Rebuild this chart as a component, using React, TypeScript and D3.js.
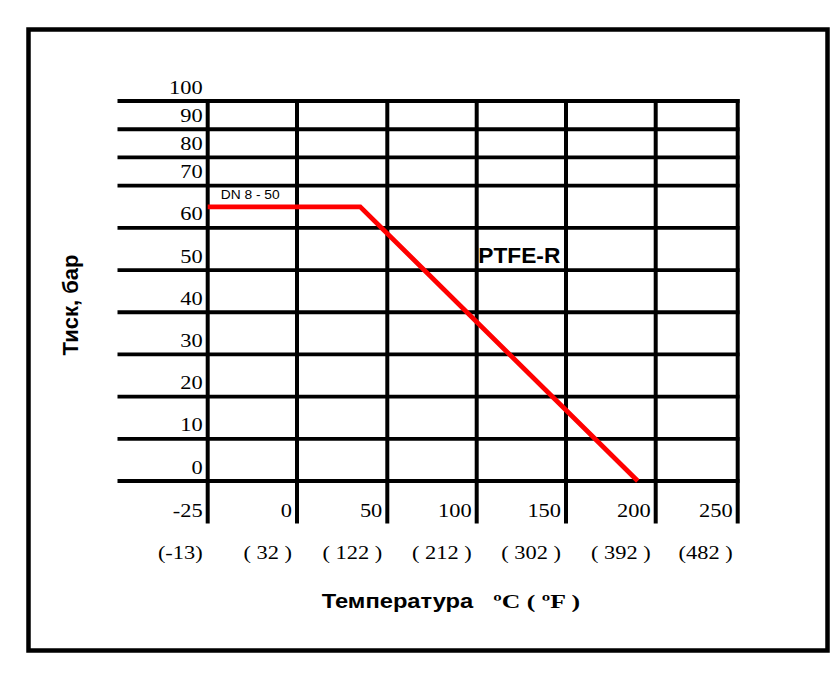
import React from "react";
import * as d3 from "d3";

const celsiusTicks = [-25, 0, 50, 100, 150, 200, 250];
const fahrenheitLabels = ["(-13)", "( 32 )", "( 122 )", "( 212 )", "( 302 )", "( 392 )", "(482 )"];
const pressureTicks = [0, 10, 20, 30, 40, 50, 60, 70, 80, 90, 100];
const seriesTemp = [-25, 35, 190];
const seriesPressure = [65, 65, 0];

const W = 840;
const H = 682;
const SERIF = "'Liberation Serif', 'Times New Roman', serif";
const SANS = "'Liberation Sans', Arial, sans-serif";

// Piecewise scales (the original grid is not uniform)
const x = d3
  .scaleLinear()
  .domain(celsiusTicks)
  .range([207.7, 297, 387.3, 476.7, 566, 655.7, 737.7]);
const y = d3.scaleLinear().domain([0, 70, 100]).range([481, 185.7, 101]);

const gridLeft = 117.5;
const gridRight = 739.5;
const vTop = 99;
const vBottom = 523.5;
const stretch = 1.18;

export default function App() {
  const line = d3
    .line<number>()
    .x((d) => x(d))
    .y((_, i) => y(seriesPressure[i]));

  return (
    <svg
      width={W}
      height={H}
      style={{ position: "absolute", left: 0, top: 0, background: "#fff" }}
    >
      <rect x={0} y={0} width={W} height={H} fill="#fff" />
      <rect x={28.5} y={29.5} width={799} height={621} fill="none" stroke="#000" strokeWidth={4.5} />

      {/* horizontal grid */}
      {pressureTicks.map((v) => (
        <line key={"h" + v} x1={gridLeft} x2={gridRight} y1={y(v)} y2={y(v)} stroke="#000" strokeWidth={3.8} />
      ))}
      {/* vertical grid */}
      {celsiusTicks.map((t) => (
        <line key={"v" + t} x1={x(t)} x2={x(t)} y1={vTop} y2={vBottom} stroke="#000" strokeWidth={4} />
      ))}

      {/* y tick labels */}
      {pressureTicks.map((v) => (
        <text
          key={"yl" + v}
          transform={`translate(${x(-25) - 5},${y(v) - 7.5}) scale(${stretch},1)`}
          textAnchor="end"
          fontFamily={SERIF}
          fontSize={19}
          fill="#000"
        >
          {v}
        </text>
      ))}

      {/* x tick labels (Celsius) */}
      {celsiusTicks.map((t) => (
        <text
          key={"xl" + t}
          transform={`translate(${x(t) - 5},${516.7}) scale(${stretch},1)`}
          textAnchor="end"
          fontFamily={SERIF}
          fontSize={19}
          fill="#000"
        >
          {t}
        </text>
      ))}
      {/* Fahrenheit labels */}
      {celsiusTicks.map((t, i) => (
        <text
          key={"fl" + t}
          transform={`translate(${x(t) - 5},${559}) scale(${stretch},1)`}
          textAnchor="end"
          fontFamily={SERIF}
          fontSize={19}
          fill="#000"
        >
          {fahrenheitLabels[i]}
        </text>
      ))}

      {/* series */}
      <path d={line(seriesTemp) || ""} fill="none" stroke="#ff0000" strokeWidth={4.8} strokeLinejoin="miter" />

      <text x={220.7} y={199} fontFamily={SANS} fontSize={12} textLength={59} lengthAdjust="spacingAndGlyphs" fill="#000">
        DN 8 - 50
      </text>
      <text x={478.3} y={262.7} fontFamily={SANS} fontSize={22} fontWeight="bold" textLength={82} lengthAdjust="spacingAndGlyphs" fill="#000">
        PTFE-R
      </text>

      {/* axis titles */}
      <text x={321.7} y={607.7} fontFamily={SANS} fontSize={20} fontWeight="bold" textLength={151.6} lengthAdjust="spacingAndGlyphs" fill="#000">
        Температура
      </text>
      <text x={493.3} y={607.7} fontFamily={SERIF} fontSize={19} fontWeight="bold" textLength={86.7} lengthAdjust="spacingAndGlyphs" fill="#000">
        ºC ( ºF )
      </text>
      <text
        transform="translate(77.5,305) rotate(-90)"
        textAnchor="middle"
        fontFamily={SANS}
        fontSize={22}
        fontWeight="bold"
        fill="#000"
      >
        Тиск, бар
      </text>
    </svg>
  );
}
